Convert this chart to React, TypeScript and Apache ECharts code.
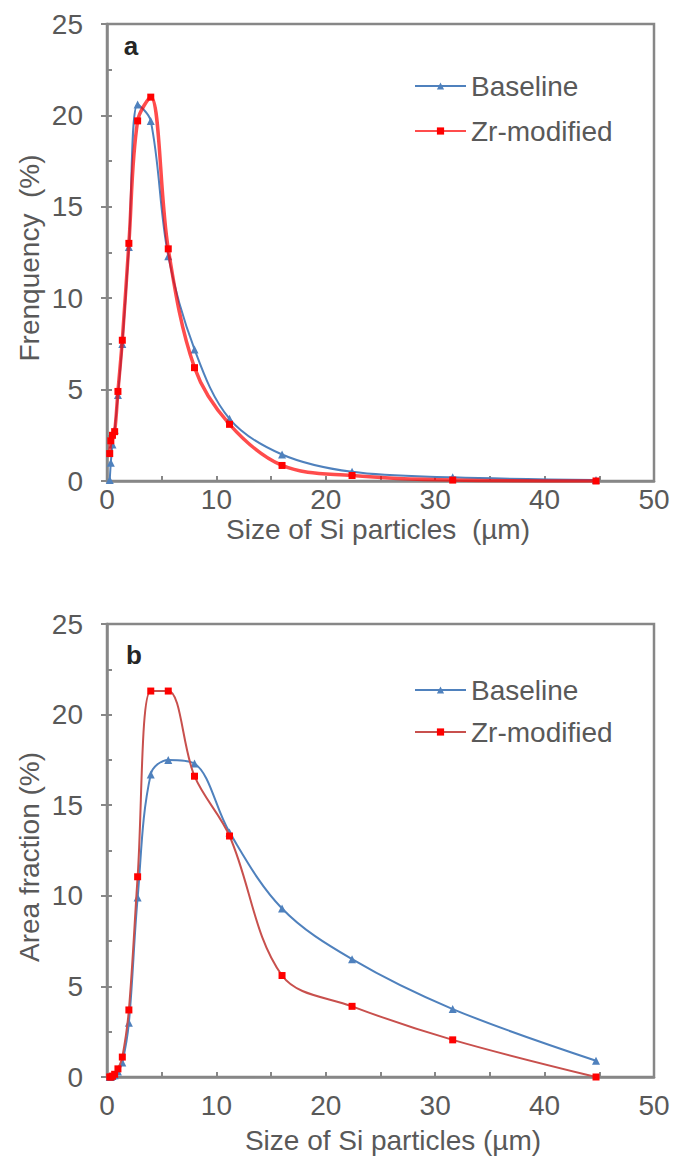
import React, { useEffect, useRef } from "react";
import * as echarts from "echarts";

const sizes = [0.25, 0.35, 0.5, 0.7, 1, 1.4, 2, 2.8, 4, 5.6, 8, 11.2, 16, 22.4, 31.6, 44.7];

const freqBaseline = [0.05, 1.0, 2.0, 2.8, 4.7, 7.5, 12.8, 20.6, 19.7, 12.3, 7.2, 3.4, 1.45, 0.5, 0.2, 0.05];
const freqZr = [1.5, 2.2, 2.5, 2.7, 4.9, 7.7, 13.0, 19.7, 21.0, 12.7, 6.2, 3.1, 0.85, 0.3, 0.05, 0.0];

const areaBaseline = [0, 0, 0.05, 0.1, 0.3, 0.8, 3.0, 9.9, 16.7, 17.5, 17.3, 13.5, 9.3, 6.5, 3.75, 0.9];
const areaZr = [0, 0, 0.05, 0.15, 0.45, 1.1, 3.7, 11.05, 21.3, 21.3, 16.6, 13.3, 5.6, 3.9, 2.05, 0.0];

const xTicks = { min: 0, max: 50, step: 5, labelStep: 10 };
const yTicks = { min: 0, max: 25, step: 5, minor: 2.5 };

const FONT = "'Liberation Sans', Arial, sans-serif";
const GRAY = "#595959";
const AXIS = "#878787";
const BLUE = "#4F81BD";
const FS = 28;

const pairs = (ys: number[]) => sizes.map((x, i) => [x, ys[i]]);

export default function App() {
  const ref = useRef<HTMLDivElement>(null);
  useEffect(() => {
    if (!ref.current) return;
    const chart = echarts.init(ref.current, null, { renderer: "svg" });
    const grids = [
      { left: 107, top: 24, width: 547, height: 457 },
      { left: 107, top: 624, width: 547, height: 453 },
    ];
    const xAxis = grids.map((_, i) => ({
      type: "value",
      gridIndex: i,
      min: xTicks.min,
      max: xTicks.max,
      interval: xTicks.step,
      axisLine: { lineStyle: { color: AXIS, width: 2.5 } },
      axisTick: { inside: true, length: 5, lineStyle: { color: AXIS, width: 2 } },
      splitLine: { show: false },
      axisLabel: {
        fontSize: FS,
        color: GRAY,
        fontFamily: FONT,
        margin: i === 0 ? 4 : 14,
        formatter: (v: number) => (v % xTicks.labelStep === 0 ? String(v) : ""),
      },
    }));
    const yAxis: any[] = [];
    grids.forEach((_, i) => {
      yAxis.push({
        type: "value",
        gridIndex: i,
        position: "left",
        min: yTicks.min,
        max: yTicks.max,
        interval: yTicks.step,
        axisLine: { show: true, lineStyle: { color: AXIS, width: 2.5 } },
        axisTick: { show: true, inside: false, length: 6, lineStyle: { color: AXIS, width: 2 } },
        splitLine: { show: false },
        axisLabel: { fontSize: FS, color: GRAY, fontFamily: FONT, margin: 24 },
      });
      yAxis.push({
        type: "value",
        gridIndex: i,
        position: "left",
        min: yTicks.min,
        max: yTicks.max,
        interval: yTicks.minor,
        axisLine: { show: false },
        axisTick: { show: true, inside: true, length: 5, lineStyle: { color: AXIS, width: 2 } },
        splitLine: { show: false },
        axisLabel: { show: false },
      });
    });
    const base = {
      type: "line",
      smooth: 0.35,
      z: 2,
    };
    const series = [
      {
        ...base,
        name: "Baseline",
        xAxisIndex: 0,
        yAxisIndex: 0,
        data: pairs(freqBaseline),
        symbol: "triangle",
        symbolSize: 8,
        itemStyle: { color: BLUE },
        lineStyle: { color: BLUE, width: 2 },
      },
      {
        ...base,
        name: "Zr-modified",
        xAxisIndex: 0,
        yAxisIndex: 0,
        data: pairs(freqZr),
        symbol: "rect",
        symbolSize: 7,
        z: 3,
        itemStyle: { color: "#FF0000" },
        lineStyle: { color: "rgba(255,0,0,0.7)", width: 3.5 },
      },
      {
        ...base,
        name: "Baseline_b",
        xAxisIndex: 1,
        yAxisIndex: 2,
        data: pairs(areaBaseline),
        symbol: "triangle",
        symbolSize: 8,
        itemStyle: { color: BLUE },
        lineStyle: { color: BLUE, width: 2 },
      },
      {
        ...base,
        name: "Zr-modified_b",
        xAxisIndex: 1,
        yAxisIndex: 2,
        data: pairs(areaZr),
        symbol: "rect",
        symbolSize: 7,
        z: 3,
        itemStyle: { color: "#FF0000" },
        lineStyle: { color: "#C8504D", width: 2 },
      },
    ];
    const legendBase = {
      orient: "vertical",
      left: 409,
      itemWidth: 51,
      itemHeight: 9,
      textStyle: { fontSize: FS, color: GRAY, fontFamily: FONT },
      formatter: (n: string) => n.replace("_b", ""),
      selectedMode: false,
    };
    const txt = (text: string, x: number, y: number, extra: any = {}) => ({
      type: "text",
      x,
      y,
      ...extra,
      style: {
        text,
        fill: GRAY,
        font: `${FS}px ${FONT}`,
        align: "center",
        verticalAlign: "middle",
        ...(extra.style || {}),
      },
    });
    chart.setOption({
      animation: false,
      backgroundColor: "#fff",
      grid: grids.map((g) => ({ ...g, show: true, borderColor: AXIS, borderWidth: 2.5, backgroundColor: "transparent" })),
      xAxis,
      yAxis,
      series,
      legend: [
        { ...legendBase, top: 67, itemGap: 17, data: ["Baseline", "Zr-modified"] },
        { ...legendBase, top: 671, itemGap: 14, data: ["Baseline_b", "Zr-modified_b"] },
      ],
      graphic: [
        txt("a", 131, 46, { style: { fill: "#262626", font: `bold 26px ${FONT}` } }),
        txt("b", 134, 655, { style: { fill: "#262626", font: `bold 26px ${FONT}` } }),
        txt("Size of Si particles  (\u00b5m)", 378, 529),
        txt("Size of Si particles (\u00b5m)", 393, 1140),
        txt("Frenquency  (%)", 29, 258, { rotation: Math.PI / 2 }),
        txt("Area fraction (%)", 29, 857, { rotation: Math.PI / 2 }),
      ],
    });
    return () => chart.dispose();
  }, []);
  return (
    <div
      ref={ref}
      style={{ position: "absolute", left: 0, top: 0, width: 673, height: 1166, background: "#fff" }}
    />
  );
}
